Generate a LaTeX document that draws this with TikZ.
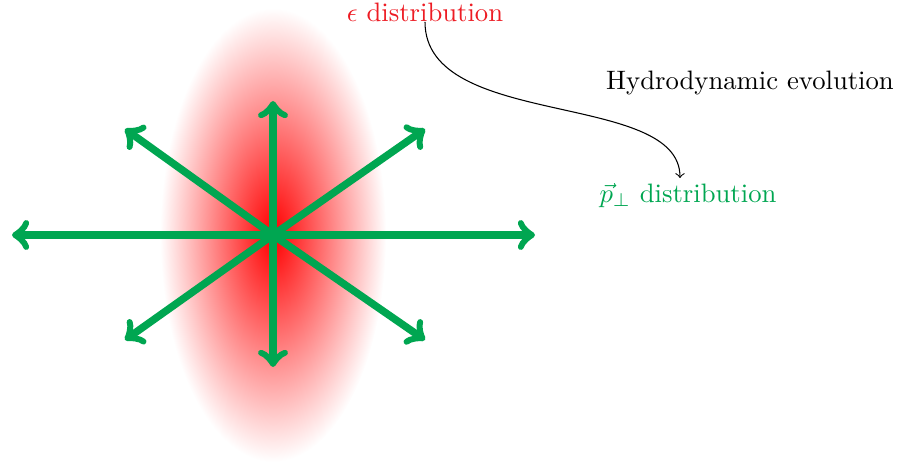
\documentclass[tikz,border=0pt]{standalone}
\usetikzlibrary{arrows}
\definecolor{arrgreen}{RGB}{0,166,81}
\definecolor{epsred}{RGB}{237,28,36}
\begin{document}
\begin{tikzpicture}[x=0.375pt,y=-0.375pt,
  flow/.style={draw=arrgreen,line width=2.8pt,->,line cap=round},
  lbl/.style={inner sep=0pt,font=\normalsize}]
\useasboundingbox (0,0) rectangle (897,467);
\shade[inner color=red,outer color=white] (273,235) ellipse [x radius=42.4pt, y radius=85.1pt];
\coordinate (c) at (273,235);
\coordinate (tl) at (12,235);
\coordinate (tr) at (535,235);
\coordinate (tu) at (273,101);
\coordinate (td) at (273,367);
\coordinate (tul) at (125,129);
\coordinate (tur) at (425,129);
\coordinate (tdl) at (125,340);
\coordinate (tdr) at (425,340);
\foreach \t in {tl,tr,tu,td,tul,tur,tdl,tdr} \draw[flow] (c) -- (\t);
\node[lbl,text=epsred] (eps) at (425,12) {$\epsilon$ distribution};
\node[lbl] (hydro) at (750,83) {Hydrodynamic evolution};
\node[lbl,text=arrgreen] (pp) at (688,196) {$\vec{p}_\perp$ distribution};
\coordinate (end) at (680,178);
\draw[->] (eps.south) .. controls (425,130) and (680,90) .. (end);
\end{tikzpicture}
\end{document}
